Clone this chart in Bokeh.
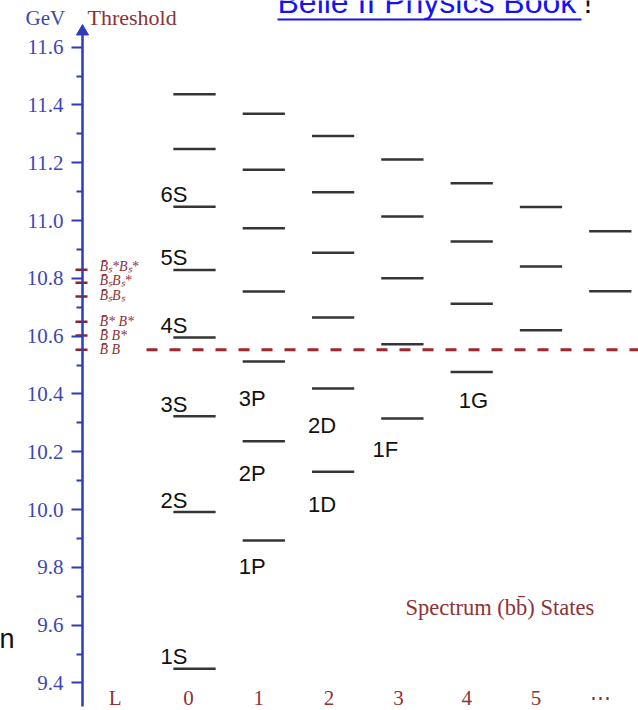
from bokeh.plotting import figure
from bokeh.models import FixedTicker
from bokeh.core.properties import value
from bokeh.embed import file_html
from bokeh.resources import INLINE

# ---------------- data (GeV) ----------------
levels_L0 = [9.449, 9.991, 10.323, 10.595, 10.829, 11.048, 11.247, 11.437]
levels_L1 = [9.893, 10.236, 10.512, 10.754, 10.973, 11.176, 11.369]
levels_L2 = [10.131, 10.419, 10.664, 10.888, 11.098, 11.292]
levels_L3 = [10.315, 10.572, 10.800, 11.014, 11.211]
levels_L4 = [10.476, 10.712, 10.927, 11.129]
levels_L5 = [10.620, 10.841, 11.047]
levels_L6 = [10.755, 10.963]
all_levels = [levels_L0, levels_L1, levels_L2, levels_L3, levels_L4, levels_L5, levels_L6]

s_state_names = ["1S", "2S", "3S", "4S", "5S", "6S"]
other_state_names = ["1P", "2P", "3P", "1D", "2D", "1F", "1G"]
other_state_L = [1, 1, 1, 2, 2, 3, 4]
other_state_level = [9.893, 10.236, 10.512, 10.131, 10.419, 10.315, 10.476]

threshold_names = ["B\u0304  B", "B\u0304  B*", "B\u0304* B*", "B\u0304\u209bB\u209b",
                   "B\u0304\u209bB\u209b*", "B\u0304\u209b*B\u209b*"]
threshold_values = [10.553, 10.602, 10.650, 10.737, 10.785, 10.830]

y_ticks = [9.4, 9.6, 9.8, 10.0, 10.2, 10.4, 10.6, 10.8, 11.0, 11.2, 11.4, 11.6]
y_tick_labels = ["9.4", "9.6", "9.8", "10.0", "10.2", "10.4", "10.6", "10.8",
                 "11.0", "11.2", "11.4", "11.6"]
y_minor_ticks = [9.5, 9.7, 9.9, 10.1, 10.3, 10.5, 10.7, 10.9, 11.1, 11.3, 11.5]

x_tick_labels = ["L", "0", "1", "2", "3", "4", "5", "\u22ef"]
x_tick_pos = [-1, 0, 1, 2, 3, 4, 5, 6]

# ---------------- layout / style ----------------
W, H = 638, 710
COL_PX = 69.3          # pixels per L column
COL0_PX = 194.0        # pixel x of column L=0
GEV_PX = 289.0         # pixels per GeV
REF_PY = 509.0         # pixel y of 10.0 GeV

x_start = -COL0_PX / COL_PX
x_end = x_start + W / COL_PX
y_end = 10.0 + REF_PY / GEV_PX
y_start = y_end - H / GEV_PX

def X(px):
    return x_start + px / COL_PX

def Y(py):
    return y_end - py / GEV_PX

BLUE = "#2c3cbc"
BLUE_TXT = "#3b48b4"
RED = "#8e2228"
RED_TXT = "#8e3236"
DASH_RED = "#a2262c"
BAR = "#353535"
SERIF = value("Liberation Serif")
SANS = value("Liberation Sans")

p = figure(width=W, height=H, x_range=(x_start, x_end), y_range=(y_start, y_end),
           output_backend="svg", toolbar_location=None, x_axis_location=None,
           min_border=0)
p.min_border_left = 0
p.min_border_right = 0
p.min_border_top = 0
p.min_border_bottom = 0
p.outline_line_color = None
p.xgrid.visible = False
p.ygrid.visible = False
p.background_fill_color = "white"
p.border_fill_color = "white"

# y axis (GeV)
ax = p.yaxis[0]
ax.fixed_location = X(82)
ax.bounds = (Y(706), Y(34))
ax.ticker = FixedTicker(ticks=y_ticks, minor_ticks=y_minor_ticks)
ax.major_label_overrides = {t: s for t, s in zip(y_ticks, y_tick_labels)}
ax.axis_line_color = BLUE
ax.axis_line_width = 2.5
ax.major_tick_line_color = BLUE
ax.major_tick_line_width = 2
ax.major_tick_in = 0
ax.major_tick_out = 11
ax.minor_tick_line_color = BLUE
ax.minor_tick_line_width = 2
ax.minor_tick_in = 0
ax.minor_tick_out = 6
ax.major_label_text_font = "Liberation Serif"
ax.major_label_text_font_size = "21px"
ax.major_label_text_color = BLUE_TXT
ax.major_label_standoff = 8

# axis arrow head
p.scatter(x=[X(82)], y=[Y(31)], marker="triangle", size=12,
          fill_color=BLUE, line_color=BLUE)

# energy levels
bx0, bx1, by = [], [], []
for L, lv in enumerate(all_levels):
    for e in lv:
        bx0.append(L - 0.305)
        bx1.append(L + 0.305)
        by.append(e)
p.segment(x0=bx0, x1=bx1, y0=by, y1=by, line_color=BAR, line_width=2.5)

# S-state labels (left of bar, just above)
p.text(x=[0] * len(s_state_names), y=levels_L0[:len(s_state_names)], text=s_state_names,
       x_offset=-7, y_offset=-12, text_align="right", text_baseline="middle",
       text_font=SANS, text_font_size="22px", text_color="#111111")

# other state labels (below bars)
lab_dx = [-25, -25, -25, -25, -25, -30, -13]
lab_dy = [26, 32, 37, 33, 37, 31, 29]
p.text(x=other_state_L, y=other_state_level, text=other_state_names,
       x_offset=lab_dx, y_offset=lab_dy, text_align="left", text_baseline="middle",
       text_font=SANS, text_font_size="22px", text_color="#111111")

# thresholds
p.segment(x0=[X(75)] * len(threshold_values), x1=[X(87)] * len(threshold_values),
          y0=threshold_values, y1=threshold_values, line_color=RED, line_width=2.5)
thr_dy = [0, 0, 0, -1, -2, -3]
p.text(x=[X(99)] * len(threshold_values), y=threshold_values, text=threshold_names,
       y_offset=thr_dy, text_align="left", text_baseline="middle",
       text_font=SERIF, text_font_style="italic", text_font_size="14px",
       text_color=RED_TXT)
# B B threshold dashed line
p.segment(x0=[X(146)], x1=[X(640)], y0=[threshold_values[0]], y1=[threshold_values[0]],
          line_color=DASH_RED, line_width=3, line_dash="11 12")

# bottom L labels
x_lab_dx = [-10, -6, -5, -4, -4, -5, -5, -10]
p.text(x=x_tick_pos, y=[Y(697)] * len(x_tick_pos), text=x_tick_labels,
       x_offset=x_lab_dx, text_align="center", text_baseline="middle",
       text_font=SERIF, text_font_size="21px", text_color=RED_TXT)

# headers and captions
p.text(x=[X(25)], y=[Y(17)], text=["GeV"], text_align="left", text_baseline="middle",
       text_font=SERIF, text_font_size="21px", text_color=BLUE_TXT)
p.text(x=[X(87)], y=[Y(17)], text=["Threshold"], text_align="left", text_baseline="middle",
       text_font=SERIF, text_font_size="22px", text_color=RED_TXT)
p.text(x=[X(405)], y=[Y(607)], text=["Spectrum (bb\u0304) States"], text_align="left",
       text_baseline="middle", text_font=SERIF, text_font_size="22.5px", text_color=RED_TXT)

# slide fragments (cut off at the edges)
p.text(x=[X(277)], y=[Y(1)], text=["Belle II Physics Book"], text_align="left",
       text_baseline="middle", text_font=SANS, text_font_size="32px",
       text_color="#1414f0")
p.segment(x0=[X(277)], x1=[X(581)], y0=[Y(19)], y1=[Y(19)], line_color="#1414f0",
          line_width=2)
p.text(x=[X(583)], y=[Y(1)], text=["!"], text_align="left", text_baseline="middle",
       text_font=SANS, text_font_size="32px", text_color="#111111")
p.text(x=[X(-1)], y=[Y(638)], text=["n"], text_align="left", text_baseline="middle",
       text_font=SANS, text_font_size="27px", text_color="#111111")

open("out.html", "w").write(file_html(p, INLINE))
